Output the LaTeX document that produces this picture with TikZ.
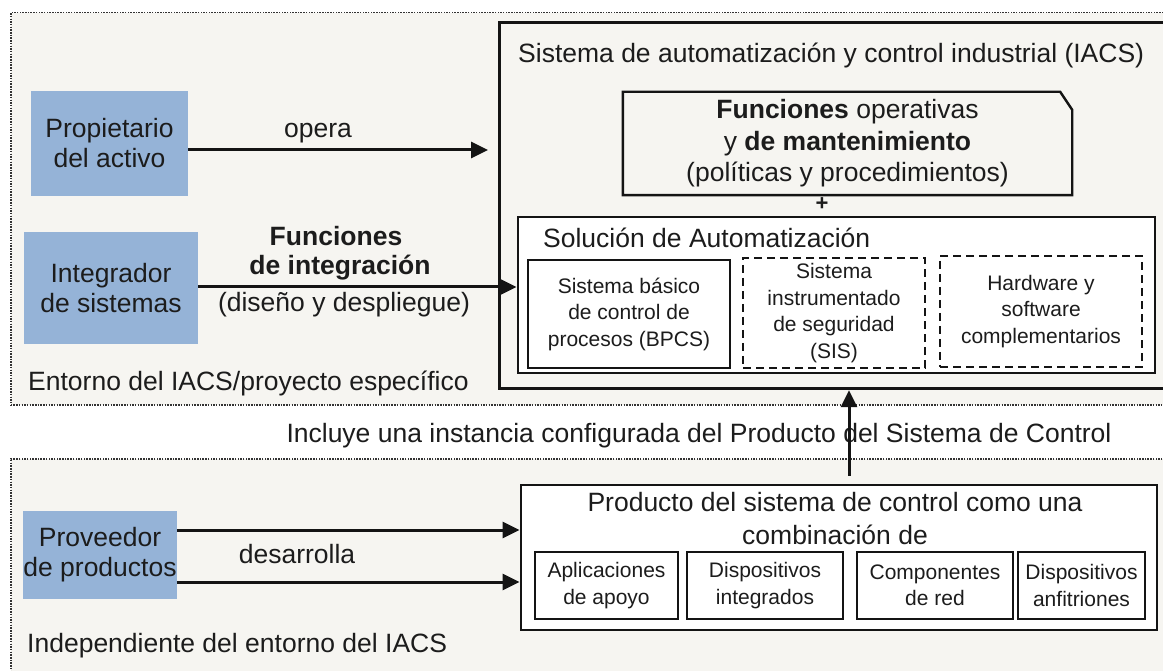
\documentclass[tikz,border=0pt]{standalone}
\usepackage{fontspec}
\setmainfont{Liberation Sans}
\usetikzlibrary{arrows.meta}
\definecolor{textc}{HTML}{1C1C1C}
\definecolor{linec}{HTML}{141414}
\definecolor{dotc}{HTML}{333333}
\definecolor{bgc}{HTML}{F6F5F1}
\definecolor{actorblue}{HTML}{95B3D7}
\tikzset{
  big/.style={font=\fontsize{26.5}{30}\selectfont, text=textc},
  small/.style={font=\fontsize{21}{26.5}\selectfont, text=textc},
  lbl/.style={big, inner sep=0pt},
  boldlbl/.style={lbl, font=\fontsize{26.5}{30}\selectfont\bfseries},
  actor/.style={big, fill=actorblue, draw=none, inner sep=0pt, align=center},
  region/.style={draw=dotc, line width=1.5pt, dash pattern=on 1.5pt off 1.2pt, fill=bgc, inner sep=0pt},
  frame/.style={draw=linec, line width=3.2pt, inner sep=0pt},
  solidbox/.style={draw=linec, line width=2.8pt, fill=white, inner sep=0pt, small, align=center},
  dashbox/.style={solidbox, dash pattern=on 8pt off 5pt},
  subbox/.style={draw=linec, line width=2.4pt, fill=white, inner sep=0pt, small, align=center},
  arr/.style={draw=linec, line width=3pt, -{Triangle[length=17pt,width=16pt]}},
}
\begin{document}
\begin{tikzpicture}[x=1pt,y=-1pt]
\useasboundingbox (0,0) rectangle (1163,671);
\fill[white] (0,0) rectangle (1163,671);
\clip (0,0) rectangle (1163,671);

% environments
\node[region, minimum width=1170, minimum height=392, anchor=north west] (envtop) at (10,12) {};
\node[region, minimum width=1170, minimum height=240, anchor=north west] (envbot) at (10,458) {};

% IACS frame
\node[frame, fill=bgc, minimum width=680, minimum height=366, anchor=north west] (iacs) at (498,21) {};
\node[lbl, anchor=base west] (iacsT) at (518,63) {Sistema de automatización y control industrial (IACS)};

% operating functions
\node[lbl, minimum width=449, minimum height=103, align=center, font=\fontsize{26.5}{31.5}\selectfont] (func) at (847.5,143.5) {\textbf{Funciones} operativas\\ y \textbf{de mantenimiento}\\ (políticas y procedimientos)};
\draw[linec, line width=2.4pt] (func.south west) -- (func.north west) -- ([xshift=-12pt]func.north east) -- ([yshift=-18pt]func.north east) -- (func.south east) -- cycle;
\node[inner sep=0pt, text=textc, font=\fontsize{22}{26}\selectfont\bfseries] (plus) at (822,204) {+};

% automation solution
\node[frame, line width=2.9pt, fill=white, minimum width=637, minimum height=156] (sol) at (836.5,295) {};
\node[lbl, anchor=base west] (solT) at (543,248) {Solución de Automatización};
\node[solidbox, minimum width=202, minimum height=108] (bpcs) at (629,314) {Sistema básico\\de control de\\procesos (BPCS)};
\node[dashbox, minimum width=182, minimum height=110] (sis) at (834,313) {Sistema\\instrumentado\\de seguridad\\(SIS)};
\node[dashbox, minimum width=202, minimum height=111] (hw) at (1041,311.5) {Hardware y\\software\\complementarios};

% actors
\node[actor, minimum width=157, minimum height=105] (prop) at (109.5,143.5) {Propietario\\del activo};
\node[actor, minimum width=174, minimum height=112] (integ) at (111,288) {Integrador\\de sistemas};
\node[actor, minimum width=152, minimum height=88] (prov) at (100,555) {Proveedor\\de productos};

% labels
\node[lbl, anchor=base] (opera) at (318,138) {opera};
\node[boldlbl, anchor=base] (fi1) at (336,246) {Funciones};
\node[boldlbl, anchor=base] (fi2) at (340,275) {de integración};
\node[lbl, anchor=base] (fi3) at (344,312) {(diseño y despliegue)};
\node[lbl, anchor=base west] (entT) at (28,390) {Entorno del IACS/proyecto específico};
\node[lbl, anchor=base] (incl) at (699,442) {Incluye una instancia configurada del Producto del Sistema de Control};

% product
\node[frame, line width=2.8pt, fill=white, minimum width=636, minimum height=145] (prod) at (839,557.5) {};
\node[lbl, align=center, font=\fontsize{26.5}{33}\selectfont] (prodT) at (835,519) {Producto del sistema de control como una\\combinación de};
\node[subbox, minimum width=143, minimum height=67] (app) at (606.5,585.5) {Aplicaciones\\de apoyo};
\node[subbox, minimum width=156, minimum height=67] (dint) at (765,585.5) {Dispositivos\\integrados};
\node[subbox, minimum width=156, minimum height=67] (comp) at (935,585.5) {Componentes\\de red};
\node[subbox, minimum width=127, minimum height=67] (anf) at (1081.5,585.5) {Dispositivos\\anfitriones};

\node[lbl, anchor=base] (des) at (297,563) {desarrolla};
\node[lbl, anchor=base west] (indT) at (27,652) {Independiente del entorno del IACS};

% connectors
\coordinate (y1) at (0,150);
\coordinate (y2) at (0,287);
\coordinate (y3) at (0,530);
\coordinate (y4) at (0,582);
\coordinate (vx) at (849,0);
\draw[arr, shorten >=10pt] (prop.east |- y1) -- (iacs.west |- y1);
\draw[arr] (integ.east |- y2) -- (sol.west |- y2);
\draw[arr] (prov.east |- y3) -- (prod.west |- y3);
\draw[arr] (prov.east |- y4) -- (prod.west |- y4);
\draw[arr, shorten <=8pt] (prod.north -| vx) -- (iacs.south -| vx);
\end{tikzpicture}
\end{document}
